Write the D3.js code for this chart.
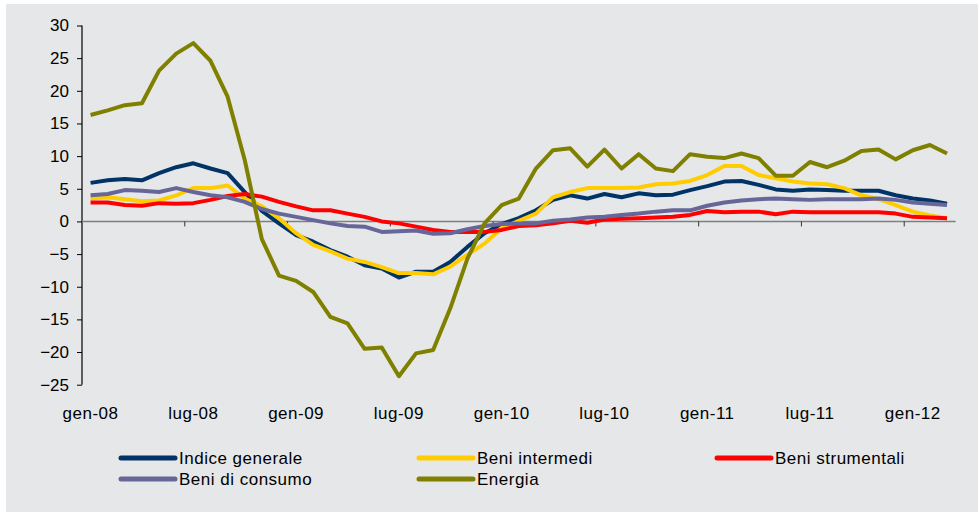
<!DOCTYPE html>
<meta charset="utf-8">
<script src="https://cdn.jsdelivr.net/npm/d3@7"></script>
<style>
    body { margin: 0; background: #fff; }
    svg { display: block; font-family: "Liberation Sans", Arial, sans-serif; }
</style>
<body>
<script>
    // categorie: mensili da gen-08 a mar-12
    var mesi = ["gen", "feb", "mar", "apr", "mag", "giu", "lug", "ago", "set", "ott", "nov", "dic"];
    var anni = ["08", "09", "10", "11", "12"];
    var months = [];
    anni.forEach(function(a) { mesi.forEach(function(m) { months.push(m + "-" + a); }); });
    months = months.slice(0, months.indexOf("mar-12") + 1);

    var yTicks = [-25, -20, -15, -10, -5, 0, 5, 10, 15, 20, 25, 30];

    var indice = [5.9, 6.3, 6.5, 6.3, 7.4, 8.3, 8.9, 8.1, 7.4, 4.5,
        1.6, -0.3, -2.1, -3.1, -4.4, -5.4, -6.7, -7.2, -8.6, -7.7,
        -7.7, -6.2, -3.9, -1.8, -0.4, 0.5, 1.7, 3.3, 4.0, 3.5,
        4.2, 3.7, 4.3, 4.0, 4.1, 4.8, 5.4, 6.1, 6.2, 5.6,
        4.9, 4.7, 4.9, 4.8, 4.7, 4.7, 4.7, 4.0, 3.5, 3.2, 2.7];
    var intermedi = [3.5, 3.7, 3.4, 3.1, 3.2, 4.0, 5.1, 5.1, 5.5, 3.5,
        2.3, 0.5, -1.8, -3.6, -4.6, -5.7, -6.2, -7.0, -7.9, -7.9,
        -8.1, -6.9, -5.1, -3.4, -1.0, 0.1, 1.2, 3.7, 4.5, 5.1,
        5.1, 5.1, 5.2, 5.7, 5.8, 6.2, 7.1, 8.5, 8.5, 7.1,
        6.6, 6.1, 5.8, 5.7, 5.1, 4.0, 3.4, 2.5, 1.5, 0.9, 0.5];
    var strumentali = [2.9, 2.9, 2.5, 2.4, 2.8, 2.7, 2.8, 3.3, 3.9, 4.2,
        3.8, 3.0, 2.3, 1.7, 1.7, 1.2, 0.7, 0.0, -0.3, -0.8,
        -1.3, -1.6, -1.6, -1.6, -1.3, -0.7, -0.6, -0.3, 0.1, -0.2,
        0.3, 0.4, 0.5, 0.6, 0.7, 1.0, 1.6, 1.4, 1.5, 1.5,
        1.1, 1.5, 1.4, 1.4, 1.4, 1.4, 1.4, 1.2, 0.7, 0.6, 0.5];
    var consumo = [4.0, 4.2, 4.8, 4.7, 4.5, 5.1, 4.5, 4.0, 3.7, 3.0,
        1.9, 1.2, 0.7, 0.2, -0.3, -0.7, -0.8, -1.6, -1.5, -1.4,
        -1.9, -1.8, -1.2, -0.7, -0.4, -0.3, -0.3, 0.1, 0.3, 0.6,
        0.7, 1.0, 1.2, 1.5, 1.7, 1.7, 2.4, 2.9, 3.2, 3.4,
        3.5, 3.4, 3.3, 3.4, 3.4, 3.4, 3.5, 3.3, 2.9, 2.7, 2.5];
    var energia = [16.3, 17.0, 17.8, 18.1, 23.1, 25.7, 27.3, 24.6, 19.1, 9.4,
        -2.7, -8.3, -9.1, -10.8, -14.6, -15.6, -19.5, -19.3, -23.7, -20.2,
        -19.7, -13.3, -5.7, -0.3, 2.5, 3.5, 8.1, 10.9, 11.2, 8.4,
        11.0, 8.1, 10.3, 8.1, 7.7, 10.3, 9.9, 9.7, 10.4, 9.7,
        7.0, 7.0, 9.1, 8.3, 9.3, 10.8, 11.0, 9.5, 10.9, 11.7, 10.4];

    var seriesNames = ["Indice generale", "Beni intermedi", "Beni strumentali", "Beni di consumo", "Energia"];
    var seriesValues = [indice, intermedi, strumentali, consumo, energia];
    var colors = ["#003366", "#FFCC00", "#FF0000", "#666699", "#808000"];

    var width = 978, height = 513;
    var svg = d3.select("body").append("svg").attr("width", width).attr("height", height);

    svg.append("rect").attr("x", 6).attr("y", 4).attr("width", 972).attr("height", 508).attr("fill", "#E6E7E8");

    var x = d3.scaleBand().domain(months).range([82, 955.6]).padding(0);
    var y = d3.scaleLinear().domain([-25, 30]).range([384.7, 25.5]);
    var cx = function(m) { return x(m) + x.bandwidth() / 2; };

    // asse y
    var yAxis = svg.append("g").attr("transform", "translate(82,0)")
        .call(d3.axisLeft(y).tickValues(yTicks).tickSize(5).tickPadding(8));
    yAxis.select(".domain").attr("stroke", "#000").attr("stroke-width", 1.2).attr("d", "M0," + y(30) + "V" + y(-25));
    yAxis.selectAll(".tick line").attr("stroke", "#000");
    yAxis.selectAll("text").attr("font-size", 17).attr("fill", "#000").attr("font-family", "Liberation Sans, Arial, sans-serif");

    // asse x sullo zero
    var tickMonths = months.filter(function(m, i) { return i > 0 && i % 6 == 0; });
    svg.append("line").attr("x1", 82).attr("x2", 955.6).attr("y1", y(0)).attr("y2", y(0))
        .attr("stroke", "#7F7F7F").attr("stroke-width", 1.5);
    svg.selectAll(".xtick").data(tickMonths).enter().append("line")
        .attr("x1", function(m) { return x(m); }).attr("x2", function(m) { return x(m); })
        .attr("y1", y(0)).attr("y2", y(0) + 5).attr("stroke", "#333").attr("stroke-width", 1);

    // etichette x in basso
    var labelMonths = months.filter(function(m, i) { return i % 6 == 0; });
    svg.selectAll(".xlab").data(labelMonths).enter().append("text")
        .attr("x", cx).attr("y", 419).attr("text-anchor", "middle")
        .attr("font-size", 17).attr("letter-spacing", 0.5).attr("fill", "#000").text(function(m) { return m; });

    // linee
    var line = d3.line().x(function(d, i) { return cx(months[i]); }).y(function(d) { return y(d); });
    svg.selectAll(".serie").data(seriesValues).enter().append("path")
        .attr("d", line).attr("fill", "none")
        .attr("stroke", function(d, i) { return colors[i]; })
        .attr("stroke-width", 4).attr("stroke-linejoin", "round");

    // legenda
    var leg = svg.selectAll(".leg").data(seriesNames).enter().append("g")
        .attr("transform", function(d, i) { return "translate(" + (121 + (i % 3) * 298) + "," + (458 + Math.floor(i / 3) * 21) + ")"; });
    leg.append("line").attr("x1", 0).attr("x2", 54).attr("y1", 0).attr("y2", 0)
        .attr("stroke", function(d, i) { return colors[i]; }).attr("stroke-width", 5).attr("stroke-linecap", "round");
    leg.append("text").attr("x", 58).attr("y", 6).attr("font-size", 17).attr("letter-spacing", 0.5)
        .attr("fill", "#000").text(function(d) { return d; });
</script>
</body>
